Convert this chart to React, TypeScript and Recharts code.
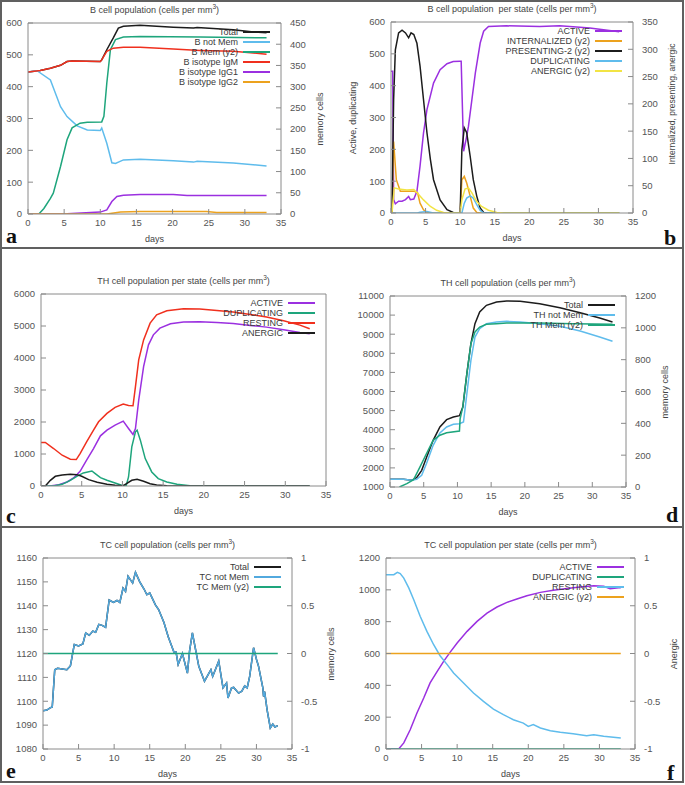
import { Line, LineChart, XAxis, YAxis } from "recharts";

type Pt = [number, number];

const DAY_TICKS = [0, 5, 10, 15, 20, 25, 30, 35];

// a: B cell population
const A_TOTAL: Pt[] = [
  [0, 446], [1.7, 451], [3.1, 458], [4.5, 467], [5.4, 479], [6.1, 481], [8, 480], [10, 479], [10.2, 484],
  [10.9, 516], [11.8, 553], [12.5, 584], [13.2, 590], [15.5, 593], [20.1, 587], [22.9, 584], [23.4, 586],
  [28.4, 579], [31.2, 572], [33, 569],
];
const A_NOT_MEM: Pt[] = [
  [0, 446], [1.25, 450], [3.1, 421], [4.5, 337], [5.4, 306], [6.8, 277], [8.2, 264], [10, 262], [10.2, 270],
  [10.9, 222], [11.6, 161], [12.1, 159], [13.2, 170], [15.5, 172], [20.1, 167], [22.9, 163], [23.4, 166],
  [28.4, 160], [33, 151],
];
const A_MEM: Pt[] = [
  [1.5, 0], [2.2, 13], [3.1, 37], [3.5, 49], [4.5, 112], [5.4, 175], [6.1, 203], [7.2, 214], [8.2, 216],
  [10.2, 217], [10.5, 230], [10.9, 308], [11.4, 387], [12.1, 411], [13.2, 417], [15.5, 418], [23.8, 417], [33, 415],
];
const A_IGM: Pt[] = [
  [0, 446], [1.7, 451], [3.1, 458], [4.5, 467], [5.4, 479], [6.1, 481], [10, 479], [10.2, 484], [10.9, 511],
  [11.8, 521], [13.2, 524], [15.5, 524], [20.1, 518], [23.8, 514], [28.4, 511], [33, 502],
];
const A_IGG1: Pt[] = [
  [0, 0], [5.4, 1], [10, 6], [10.9, 13], [11.6, 39], [12.3, 55], [13.2, 59], [15.5, 61], [20.1, 61],
  [22, 58], [33, 58],
];
const A_IGG2: Pt[] = [
  [0, 0], [10.9, 0], [12.8, 6], [15.5, 8], [24.7, 8], [26.1, 5], [33, 5],
];

// b: B cell population per state
const B_ACTIVE: Pt[] = [
  [0, 445], [0.24, 445], [0.38, 42], [0.63, 29], [1.1, 37], [1.6, 37], [2.1, 42], [2.55, 52], [2.8, 42],
  [3.3, 44], [3.75, 68], [4.2, 147], [4.7, 251], [5.2, 325], [6.15, 408], [7.1, 450], [8.1, 469], [9, 476],
  [10, 477], [10.15, 477], [10.5, 194], [10.85, 230], [11.2, 272], [11.7, 356], [12.2, 440], [12.9, 534],
  [13.4, 571], [14.1, 586], [16.7, 588], [21.5, 586], [24.4, 588], [28.75, 581], [33, 569],
];
const B_INTERNALIZED: Pt[] = [
  [0, 0], [0.14, 0], [0.38, 131], [0.77, 61], [1.35, 40], [2.3, 40], [3.3, 40], [3.85, 37], [4.2, 18],
  [4.7, 6], [5.2, 1], [5.7, 0], [10, 0], [10.25, 61], [10.6, 67], [10.95, 55], [11.45, 31], [11.9, 9],
  [12.4, 1], [12.9, 0], [33, 0],
];
const B_PRESENTING: Pt[] = [
  [0, 0], [0.14, 0], [0.38, 208], [0.63, 299], [1.1, 330], [1.6, 335], [2.1, 330], [2.55, 321], [2.9, 330],
  [3.3, 327], [3.75, 311], [4.2, 269], [4.7, 208], [5.2, 147], [5.7, 98], [6.15, 61], [7.1, 24], [8.1, 6],
  [9, 1], [10, 0], [10.25, 116], [10.6, 156], [10.95, 147], [11.45, 104], [11.9, 61], [12.4, 31], [12.9, 9],
  [13.4, 1], [13.9, 0], [33, 0],
];
const B_DUPLICATING: Pt[] = [
  [0, 0], [3.8, 0], [4.2, 2], [5.2, 5], [6.1, 0], [10.25, 0], [10.6, 31], [10.95, 47], [11.45, 54],
  [11.9, 47], [12.4, 26], [12.9, 8], [13.4, 0], [33, 0],
];
const B_ANERGIC: Pt[] = [
  [0, 0], [0.14, 0], [0.48, 46], [1.1, 44], [2.3, 42], [3.3, 43], [4, 34], [4.7, 24], [5.7, 12], [6.6, 5],
  [7.6, 1], [8.5, 0], [10, 0], [10.25, 24], [10.7, 44], [11.2, 46], [11.7, 37], [12.4, 21], [13.1, 12],
  [14.1, 5], [15.3, 1], [16.3, 0], [33, 0],
];

// c: TH cell population per state
const C_ACTIVE: Pt[] = [
  [0, 0], [1.1, 0], [2.2, 42], [3.2, 125], [4, 251], [4.8, 460], [5.6, 805], [6.45, 1171], [7.3, 1568],
  [8.1, 1746], [9.1, 1902], [10.1, 2028], [10.75, 1798], [11.3, 1610], [11.6, 1798], [12, 2686], [12.6, 3731],
  [13.2, 4411], [13.8, 4724], [14.6, 4933], [15.9, 5069], [17.5, 5122], [19.5, 5132], [21.6, 5111],
  [23.6, 5080], [25.7, 5017], [27.7, 4965], [29.8, 4881], [31.8, 4798], [33, 4756],
];
const C_DUPLICATING: Pt[] = [
  [0, 0], [1.55, 0], [2.6, 52], [3.6, 178], [4.4, 303], [5.2, 408], [6.25, 470], [6.66, 387], [7.3, 261],
  [8.1, 178], [9.1, 94], [9.9, 21], [10.45, 0], [10.75, 282], [11.15, 1223], [11.6, 1693], [11.8, 1746],
  [12.2, 1432], [12.8, 857], [13.6, 439], [14.4, 230], [15.45, 125], [16.7, 52], [18.3, 10], [19.5, 0], [33, 0],
];
const C_RESTING: Pt[] = [
  [0, 1359], [0.53, 1359], [1.55, 1171], [2.6, 962], [3.6, 836], [4.33, 826], [4.8, 1014], [5.6, 1380],
  [6.45, 1746], [7.07, 2007], [8.1, 2268], [9.1, 2456], [10.1, 2561], [10.75, 2519], [11.3, 2508], [11.6, 3104],
  [12, 3940], [12.6, 4567], [13.4, 5090], [14.2, 5351], [15.45, 5477], [17.5, 5540], [19.5, 5530],
  [21.6, 5488], [23.6, 5436], [25.7, 5362], [27.7, 5279], [29.8, 5164], [31.8, 5028], [33, 4913],
];
const C_ANERGIC: Pt[] = [
  [0, 0], [0.53, 0], [1.15, 178], [1.76, 303], [2.6, 345], [3.6, 366], [4.4, 355], [5, 303], [5.85, 199],
  [6.9, 115], [8.1, 52], [9.1, 21], [10.1, 10], [10.5, 73], [11.15, 178], [11.8, 209], [12.6, 146],
  [13.4, 73], [14.2, 31], [15.45, 10], [16.7, 0], [33, 0],
];

// d: TH cell population
const D_TOTAL: Pt[] = [
  [0, 1401], [2, 1401], [3.2, 1349], [3.95, 1489], [4.7, 1873], [5.4, 2536], [6.4, 3443], [7.4, 4141],
  [8.4, 4525], [9.4, 4665], [10.3, 4735], [10.8, 5188], [11.4, 6934], [12, 8504], [12.6, 9552], [13.3, 10162],
  [14.3, 10511], [15.8, 10686], [17.3, 10738], [19.3, 10721], [22.2, 10599], [25.2, 10389], [28.2, 10127],
  [31.1, 9848], [33, 9639],
];
const D_NOT_MEM: Pt[] = [
  [0, 1401], [2, 1401], [3.2, 1349], [3.95, 1401], [4.7, 1611], [5.4, 2222], [6.4, 3182], [7.4, 3827],
  [8.4, 4141], [9.4, 4281], [10.3, 4316], [10.9, 4403], [11.4, 5887], [12, 7632], [12.6, 8853], [13.3, 9290],
  [14.3, 9552], [15.8, 9639], [17.3, 9674], [19.3, 9639], [22.2, 9552], [25.2, 9412], [28.2, 9168],
  [31.1, 8853], [33, 8627],
];
const D_MEM: Pt[] = [
  [1.4, 0], [2.5, 21], [3.5, 46], [4.45, 126], [5.4, 209], [6.4, 293], [7.4, 325], [8.4, 341], [10.3, 352],
  [10.4, 429], [10.8, 503], [11.4, 712], [12, 900], [12.6, 974], [13.3, 1005], [14.3, 1022], [15.8, 1026],
  [17.3, 1030], [22.2, 1030], [27.2, 1026], [33, 1022],
];

// e: TC cell population
const E_NOT_MEM: Pt[] = [
  [0, 1096], [0.55, 1096.3], [1, 1097.2], [1.3, 1097.6], [1.65, 1113.2], [2.05, 1113.8], [3.35, 1113.2],
  [3.85, 1114.8], [4.4, 1123.8], [5, 1123.2], [5.6, 1124], [6, 1128.6], [6.5, 1127.6], [7, 1129.4],
  [7.4, 1128.9], [7.85, 1132.2], [8.3, 1131.8], [8.8, 1131], [9.3, 1142.4], [9.9, 1141.4], [10.4, 1142.2],
  [10.8, 1141.4], [11.25, 1147.4], [11.6, 1146], [11.95, 1152.4], [12.6, 1149.5], [13, 1154], [13.6, 1150],
  [14.2, 1147], [14.6, 1144.6], [15, 1145.4], [15.8, 1140.4], [16.25, 1138.4], [17, 1133], [17.6, 1127],
  [18.4, 1120.6], [18.7, 1120.6], [19, 1115.4], [19.6, 1120], [20.3, 1111.8], [20.6, 1121], [21, 1128.6],
  [21.4, 1122.4], [21.9, 1114.6], [22.7, 1108.4], [23.6, 1113.2], [23.85, 1110.4], [24.7, 1116.8],
  [25.3, 1105.6], [25.8, 1107.6], [26, 1101.4], [26.5, 1105.6], [26.8, 1105.8], [27.5, 1103.4],
  [27.95, 1104.2], [28.35, 1106.4], [28.7, 1105.6], [29.05, 1110.4], [29.6, 1122.4], [30, 1117.6],
  [30.3, 1114.6], [30.9, 1105.6], [31, 1102], [31.15, 1104], [31.5, 1096.4], [31.95, 1088.8], [32.3, 1090.4],
  [32.6, 1089.2], [33, 1089.8],
];
const E_TOTAL: Pt[] = E_NOT_MEM;
const E_MEM: Pt[] = [[0, 0], [33, 0]];

// f: TC cell population per state
const F_ACTIVE: Pt[] = [
  [0, 0], [1.78, 0], [2.5, 38], [3.4, 121], [4.35, 226], [5.3, 320], [6.2, 415], [7.2, 488], [8.1, 551],
  [9, 607], [10, 666], [11.4, 739], [12.8, 802], [14.2, 854], [15.6, 892], [17, 921], [18.4, 942],
  [19.8, 963], [21.7, 984], [23.5, 997], [25.4, 1009], [27.3, 1018], [29.2, 1026], [30.6, 1022],
  [31.5, 1007], [32.7, 1013], [33, 1013],
];
const F_DUPLICATING: Pt[] = [[0, 0], [33, 0]];
const F_RESTING: Pt[] = [
  [0, 1095], [1.1, 1095], [1.6, 1110], [2, 1102], [2.5, 1074], [3.2, 1012], [3.9, 938], [4.8, 834],
  [5.75, 739], [6.7, 655], [7.6, 586], [8.6, 530], [9.5, 477], [10.9, 415], [12.3, 352], [13.7, 299],
  [15.1, 251], [16.5, 216], [17.9, 184], [19.3, 163], [20, 142], [20.7, 153], [21.7, 132], [23.1, 115],
  [24.5, 105], [26.3, 96], [28.2, 84], [29.2, 90], [30.6, 80], [33, 69],
];
const F_ANERGIC: Pt[] = [[0, 0], [33, 0]];

const COL = {
  purple: "#9b30e0",
  green: "#1ea57c",
  sky: "#5fbcec",
  orange: "#eca21e",
  yellow: "#f2e444",
  red: "#f0301e",
  black: "#1c1c1c",
};

const SANS = "'Liberation Sans', Arial, sans-serif";
const AXIS_COLOR = "#8a8a8a";
const TEXT_COLOR = "#454545";

type Series = { name: string; color: string; data: Pt[]; y2?: boolean };
type PanelSpec = {
  cell: [number, number, number, number];
  plot: [number, number, number, number];
  title: string;
  series: Series[];
  y: [number, number];
  yTicks: number[];
  y2?: [number, number];
  y2Ticks?: number[];
  y1Label?: string;
  y2Label?: string;
  y2LabelY?: number;
  letter: string;
  letterX: number;
  letterBase: number;
};

const range = (a: number, b: number, s: number) => {
  const out: number[] = [];
  for (let v = a; v <= b + 1e-9; v += s) out.push(Math.round(v * 100) / 100);
  return out;
};

const PANELS: PanelSpec[] = [
  {
    cell: [0, 0, 342, 248],
    plot: [28, 23, 281, 214],
    title: "B cell population (cells per mm",
    series: [
      { name: "Total", color: COL.black, data: A_TOTAL },
      { name: "B not Mem", color: COL.sky, data: A_NOT_MEM },
      { name: "B Mem (y2)", color: COL.green, data: A_MEM, y2: true },
      { name: "B isotype IgM", color: COL.red, data: A_IGM },
      { name: "B isotype IgG1", color: COL.purple, data: A_IGG1 },
      { name: "B isotype IgG2", color: COL.orange, data: A_IGG2 },
    ],
    y: [0, 600],
    yTicks: range(0, 600, 100),
    y2: [0, 450],
    y2Ticks: range(0, 450, 50),
    y2Label: "memory cells",
    letter: "a",
    letterX: 6,
    letterBase: 243,
  },
  {
    cell: [342, 0, 341, 248],
    plot: [391, 22, 633, 213],
    title: "B cell population  per state (cells per mm",
    series: [
      { name: "ACTIVE", color: COL.purple, data: B_ACTIVE },
      { name: "INTERNALIZED (y2)", color: COL.orange, data: B_INTERNALIZED, y2: true },
      { name: "PRESENTING-2 (y2)", color: COL.black, data: B_PRESENTING, y2: true },
      { name: "DUPLICATING", color: COL.sky, data: B_DUPLICATING },
      { name: "ANERGIC (y2)", color: COL.yellow, data: B_ANERGIC, y2: true },
    ],
    y: [0, 600],
    yTicks: range(0, 600, 100),
    y2: [0, 350],
    y2Ticks: range(0, 350, 50),
    y1Label: "Active, duplicating",
    y2Label: "Internalized, presenting, anergic",
    y2LabelY: 104,
    letter: "b",
    letterX: 664,
    letterBase: 245,
  },
  {
    cell: [0, 249, 342, 277],
    plot: [41, 294, 326, 486],
    title: "TH cell population per state (cells per mm",
    series: [
      { name: "ACTIVE", color: COL.purple, data: C_ACTIVE },
      { name: "DUPLICATING", color: COL.green, data: C_DUPLICATING },
      { name: "RESTING", color: COL.red, data: C_RESTING },
      { name: "ANERGIC", color: COL.black, data: C_ANERGIC },
    ],
    y: [0, 6000],
    yTicks: range(0, 6000, 1000),
    letter: "c",
    letterX: 6,
    letterBase: 523,
  },
  {
    cell: [342, 249, 341, 277],
    plot: [390, 296, 626, 487],
    title: "TH cell population (cells per mm",
    series: [
      { name: "Total", color: COL.black, data: D_TOTAL },
      { name: "TH not Mem", color: COL.sky, data: D_NOT_MEM },
      { name: "TH Mem (y2)", color: COL.green, data: D_MEM, y2: true },
    ],
    y: [1000, 11000],
    yTicks: range(1000, 11000, 1000),
    y2: [0, 1200],
    y2Ticks: range(0, 1200, 200),
    y2Label: "memory cells",
    letter: "d",
    letterX: 666,
    letterBase: 522,
  },
  {
    cell: [0, 528, 342, 254],
    plot: [43, 558, 292, 749],
    title: "TC cell population (cells per mm",
    series: [
      { name: "Total", color: COL.black, data: E_TOTAL },
      { name: "TC not Mem", color: "#52a9de", data: E_NOT_MEM },
      { name: "TC Mem (y2)", color: COL.green, data: E_MEM, y2: true },
    ],
    y: [1080, 1160],
    yTicks: range(1080, 1160, 10),
    y2: [-1, 1],
    y2Ticks: range(-1, 1, 0.5),
    y2Label: "memory cells",
    letter: "e",
    letterX: 6,
    letterBase: 778,
  },
  {
    cell: [342, 528, 341, 254],
    plot: [386, 558, 635, 749],
    title: "TC cell population per state (cells per mm",
    series: [
      { name: "ACTIVE", color: COL.purple, data: F_ACTIVE },
      { name: "DUPLICATING", color: COL.green, data: F_DUPLICATING },
      { name: "RESTING", color: COL.sky, data: F_RESTING },
      { name: "ANERGIC (y2)", color: COL.orange, data: F_ANERGIC, y2: true },
    ],
    y: [0, 1200],
    yTicks: range(0, 1200, 200),
    y2: [-1, 1],
    y2Ticks: range(-1, 1, 0.5),
    y2Label: "Anergic",
    letter: "f",
    letterX: 667,
    letterBase: 780,
  },
];

const tickStyle = { fill: "#555", fontSize: 9.5, fontFamily: SANS };

function Panel({ p }: { p: PanelSpec }) {
  const [cx, cy, cw, ch] = p.cell;
  const [l, t, r, b] = p.plot;
  const AW = 10;
  const XH = 10;
  const TH = 2;
  const margin = { left: l - cx - AW, right: cx + cw - r - AW, top: t - cy - TH, bottom: cy + ch - b - XH };
  const hasY2 = p.y2 !== undefined;
  const midX = (l + r) / 2 - cx;
  const midY = (t + b) / 2 - cy;
  const legendRight = cx + cw - r + 11;

  return (
    <div style={{ position: "absolute", left: cx, top: cy, width: cw, height: ch }}>
      <LineChart width={cw} height={ch} margin={margin}>
        <XAxis
          xAxisId="x"
          type="number"
          dataKey="x"
          domain={[0, 35]}
          ticks={DAY_TICKS}
          allowDataOverflow
          height={XH}
          stroke={AXIS_COLOR}
          tickSize={-5}
          tickMargin={10}
          tick={tickStyle}
        />
        <XAxis
          xAxisId="top"
          orientation="top"
          type="number"
          dataKey="x"
          domain={[0, 35]}
          ticks={DAY_TICKS}
          allowDataOverflow
          height={TH}
          stroke={AXIS_COLOR}
          tickSize={-5}
          tick={false}
        />
        <YAxis
          yAxisId="l"
          type="number"
          domain={p.y}
          ticks={p.yTicks}
          allowDataOverflow
          width={AW}
          stroke={AXIS_COLOR}
          tickSize={-5}
          tickMargin={11}
          tick={tickStyle}
        />
        <YAxis
          yAxisId="r"
          orientation="right"
          type="number"
          domain={p.y2 ?? p.y}
          ticks={p.y2Ticks ?? p.yTicks}
          allowDataOverflow
          width={AW}
          stroke={AXIS_COLOR}
          tickSize={-5}
          tickMargin={14}
          tick={hasY2 ? tickStyle : false}
        />
        {p.series.map((s) => (
          <Line
            key={s.name}
            name={s.name}
            data={s.data.map(([x, y]) => ({ x, y }))}
            dataKey="y"
            xAxisId="x"
            yAxisId={s.y2 ? "r" : "l"}
            type="linear"
            stroke={s.color}
            strokeWidth={1.5}
            dot={false}
            activeDot={false}
            isAnimationActive={false}
          />
        ))}
      </LineChart>

      <div
        style={{
          position: "absolute",
          left: midX,
          top: t - cy - 14,
          transform: "translate(-50%, -50%)",
          whiteSpace: "pre",
          fontFamily: SANS,
          fontSize: 9,
          color: TEXT_COLOR,
        }}
      >
        {p.title}
        <sup style={{ fontSize: 6.5 }}>3</sup>)
      </div>

      <div
        style={{
          position: "absolute",
          left: midX,
          top: b - cy + 25,
          transform: "translate(-50%, -50%)",
          fontFamily: SANS,
          fontSize: 9,
          color: TEXT_COLOR,
        }}
      >
        days
      </div>

      {p.y1Label && (
        <div
          style={{
            position: "absolute",
            left: l - cx - 38,
            top: midY,
            transform: "translate(-50%, -50%) rotate(-90deg)",
            whiteSpace: "nowrap",
            fontFamily: SANS,
            fontSize: 9,
            color: TEXT_COLOR,
          }}
        >
          {p.y1Label}
        </div>
      )}
      {p.y2Label && (
        <div
          style={{
            position: "absolute",
            left: r - cx + 39,
            top: p.y2LabelY !== undefined ? p.y2LabelY - cy : midY,
            transform: "translate(-50%, -50%) rotate(-90deg)",
            whiteSpace: "nowrap",
            fontFamily: SANS,
            fontSize: p.y2LabelY !== undefined ? 8.5 : 9,
            color: TEXT_COLOR,
          }}
        >
          {p.y2Label}
        </div>
      )}

      {p.series.map((s, i) => (
        <div
          key={s.name}
          style={{
            position: "absolute",
            right: legendRight - (cx + cw - cx - cw),
            top: t - cy + 9 + i * 10 - 6,
            height: 12,
            display: "flex",
            alignItems: "center",
            gap: 5,
            fontFamily: SANS,
            fontSize: 9,
            color: "#3a3a3a",
            whiteSpace: "pre",
          }}
        >
          <span>{s.name}</span>
          <span style={{ display: "inline-block", width: 27, height: 2, background: s.color }} />
        </div>
      ))}

      <div
        style={{
          position: "absolute",
          left: p.letterX - cx,
          top: p.letterBase - cy - 18.4,
          fontFamily: "'Liberation Serif', 'Times New Roman', serif",
          fontWeight: 700,
          fontSize: 22,
          lineHeight: 1,
          color: "#111",
        }}
      >
        {p.letter}
      </div>
    </div>
  );
}

export default function App() {
  return (
    <div style={{ position: "absolute", left: 0, top: 0, width: 685, height: 785, background: "#fff", overflow: "hidden" }}>
      {PANELS.map((p) => (
        <Panel key={p.letter} p={p} />
      ))}
      <div
        style={{
          position: "absolute",
          left: 0,
          top: 0,
          width: 684,
          height: 783,
          border: "2px solid #606060",
          boxSizing: "border-box",
          pointerEvents: "none",
        }}
      />
      <div style={{ position: "absolute", left: 0, top: 247, width: 684, height: 2, background: "#606060" }} />
      <div style={{ position: "absolute", left: 0, top: 526, width: 684, height: 2, background: "#606060" }} />
    </div>
  );
}
